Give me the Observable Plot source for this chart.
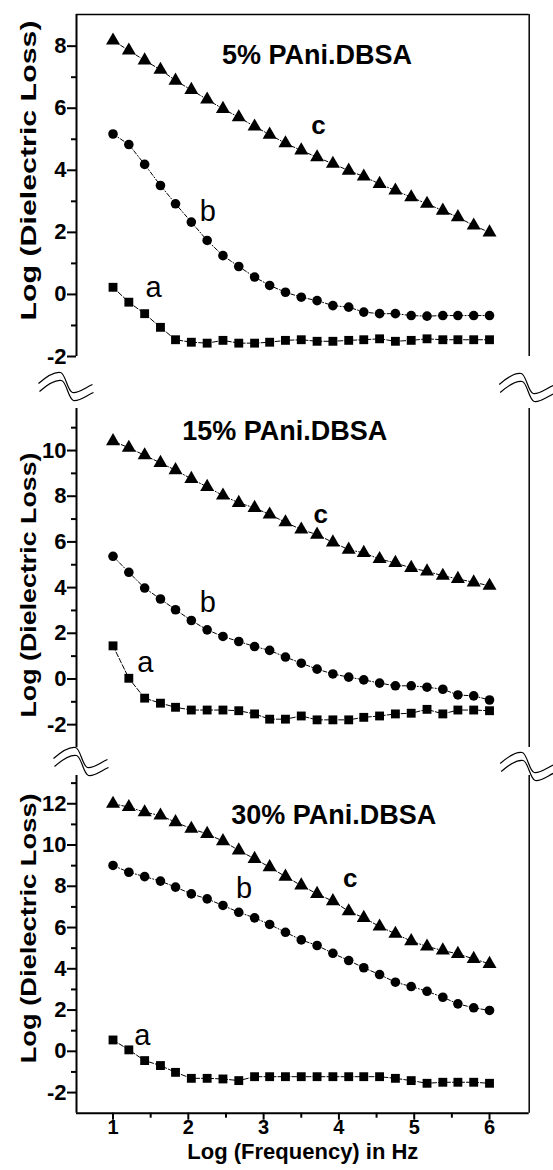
<!DOCTYPE html>
<html><head><meta charset="utf-8">
<script src="https://cdn.jsdelivr.net/npm/d3@7"></script>
<script src="https://cdn.jsdelivr.net/npm/@observablehq/plot@0.6"></script>
<style>
body{margin:0;background:#fff}
#chart{position:relative;width:553px;height:1170px;background:#fff}
#chart svg{display:block;overflow:visible;background:transparent}
</style></head><body><div id="chart"></div>
<script>
// ---- data ----
const logFreq = [1, 1.21, 1.42, 1.63, 1.83, 2.04, 2.25, 2.46, 2.67, 2.88, 3.08, 3.29, 3.5, 3.71, 3.92, 4.13, 4.33, 4.54, 4.75, 4.96, 5.17, 5.38, 5.58, 5.79, 6];

const p5_a = [0.23, -0.25, -0.62, -1.06, -1.46, -1.54, -1.57, -1.48, -1.57, -1.57, -1.54, -1.48, -1.46, -1.51, -1.51, -1.48, -1.46, -1.43, -1.51, -1.48, -1.43, -1.46, -1.46, -1.46, -1.46];
const p5_b = [5.17, 4.83, 4.19, 3.51, 2.92, 2.33, 1.74, 1.25, 0.90, 0.56, 0.29, 0.07, -0.09, -0.20, -0.36, -0.41, -0.57, -0.62, -0.62, -0.68, -0.70, -0.68, -0.68, -0.68, -0.68];
const p5_c = [8.18, 7.86, 7.54, 7.24, 6.89, 6.59, 6.28, 5.98, 5.71, 5.41, 5.15, 4.87, 4.64, 4.42, 4.21, 3.99, 3.80, 3.56, 3.35, 3.13, 2.92, 2.70, 2.49, 2.22, 2.00];

const p15_a = [1.45, 0.03, -0.84, -1.06, -1.24, -1.36, -1.36, -1.36, -1.39, -1.53, -1.76, -1.76, -1.62, -1.79, -1.79, -1.79, -1.68, -1.62, -1.53, -1.50, -1.33, -1.53, -1.36, -1.36, -1.39];
const p15_b = [5.37, 4.67, 3.98, 3.50, 3.03, 2.56, 2.15, 1.86, 1.64, 1.42, 1.25, 0.96, 0.69, 0.43, 0.22, 0.08, -0.04, -0.18, -0.30, -0.30, -0.36, -0.45, -0.70, -0.74, -0.92];
const p15_c = [10.41, 10.12, 9.79, 9.46, 9.14, 8.76, 8.41, 8.03, 7.71, 7.49, 7.20, 6.86, 6.54, 6.32, 5.98, 5.66, 5.52, 5.25, 5.08, 4.86, 4.71, 4.52, 4.38, 4.23, 4.08];

const p30_a = [0.55, 0.07, -0.45, -0.69, -1.02, -1.31, -1.31, -1.34, -1.42, -1.23, -1.23, -1.23, -1.23, -1.23, -1.23, -1.23, -1.23, -1.23, -1.31, -1.42, -1.55, -1.50, -1.50, -1.50, -1.55];
const p30_b = [9.01, 8.68, 8.47, 8.25, 7.96, 7.63, 7.39, 7.07, 6.74, 6.47, 6.15, 5.77, 5.40, 5.13, 4.75, 4.40, 4.05, 3.72, 3.35, 3.14, 2.91, 2.62, 2.30, 2.11, 1.98];
const p30_c = [12.0, 11.84, 11.59, 11.43, 11.11, 10.79, 10.54, 10.19, 9.74, 9.33, 8.93, 8.47, 8.04, 7.63, 7.28, 6.79, 6.47, 6.05, 5.70, 5.34, 5.08, 4.89, 4.72, 4.48, 4.24];

const panelTitles = ["5% PAni.DBSA", "15% PAni.DBSA", "30% PAni.DBSA"];
const titlePos = [[3.71, 7.70], [3.28, 10.85], [3.93, 11.43]];
const curveLabels = ["a", "b", "c"];
const labelPos5 = [[1.54, 0.23], [2.26, 2.65], [3.73, 5.44]];
const labelPos15 = [[1.43, 0.71], [2.26, 3.33], [3.76, 7.2]];
const labelPos30 = [[1.39, 0.76], [2.74, 7.88], [4.15, 8.36]];

const xDomain = [0.515, 6.527];
const xMajor = [1, 2, 3, 4, 5, 6];
const xMinor = [1.5, 2.5, 3.5, 4.5, 5.5];
const yDomain5 = [-2, 9.02], yMajor5 = [-2, 0, 2, 4, 6, 8], yMinor5 = [-1, 1, 3, 5, 7];
const yDomain15 = [-3, 11.84], yMajor15 = [-2, 0, 2, 4, 6, 8, 10], yMinor15 = [-1, 1, 3, 5, 7, 9, 11];
const yDomain30 = [-3, 13.37], yMajor30 = [-2, 0, 2, 4, 6, 8, 10, 12], yMinor30 = [-1, 1, 3, 5, 7, 9, 11, 13];

const yTitle = "Log (Dielectric Loss)";
const xTitle = "Log (Frequency) in Hz";

// ---- layout ----
const panels = [
  {a: p5_a, b: p5_b, c: p5_c, yDomain: yDomain5, yMajor: yMajor5, yMinor: yMinor5, labels: labelPos5,
   height: 380, mt: 14, mb: 24, labelDy: -15, labelLen: 300, breaks: null, top: true, bottom: false},
  {a: p15_a, b: p15_b, c: p15_c, yDomain: yDomain15, yMajor: yMajor15, yMinor: yMinor15, labels: labelPos15,
   height: 380, mt: 28, mb: 13, labelDy: 7, labelLen: 265, breaks: [[-16, -36], [-8, -35]], top: false, bottom: false},
  {a: p30_a, b: p30_b, c: p30_c, yDomain: yDomain30, yMajor: yMajor30, yMinor: yMinor30, labels: labelPos30,
   height: 410, mt: 15, mb: 57.3, labelDy: -16, labelLen: 270, breaks: [[-1, -28], [-7, -23]], top: false, bottom: true}
];

// axis-break squiggle (decoration) as a custom symbol
const breakSymbol = {
  draw(ctx) {
    for (const [ox, oy] of [[0, 0], [1, 8]]) {
      ctx.moveTo(-22 + ox, 11 + oy);
      ctx.bezierCurveTo(-14 + ox, 4 + oy, -6 + ox, -1 + oy, 0 + ox, 0 + oy);
      ctx.bezierCurveTo(5 + ox, 1 + oy, 7 + ox, 19 + oy, 12 + ox, 20 + oy);
      ctx.bezierCurveTo(18 + ox, 21 + oy, 25 + ox, 15 + oy, 32 + ox, 12 + oy);
    }
  }
};

const font = "'Liberation Sans', Arial, Helvetica, sans-serif";
const rows = s => logFreq.map((x, k) => ({x, y: s[k]}));
const tickFmt = d => String(d);

panels.forEach((p, i) => {
  const marks = [];
  marks.push(Plot.ruleX([xDomain[0]], {stroke: "black", strokeWidth: 2}));
  marks.push(Plot.ruleX([xDomain[1]], {stroke: "black", strokeWidth: 1.5}));
  if (p.top) marks.push(Plot.ruleY([p.yDomain[1]], {stroke: "black", strokeWidth: 1.5}));
  if (p.bottom) marks.push(Plot.ruleY([p.yDomain[0]], {stroke: "black", strokeWidth: 2}));
  marks.push(Plot.axisY({ticks: p.yMajor, tickSize: 9, tickPadding: 1, tickFormat: tickFmt, label: null,
    fontSize: 22, fontWeight: "bold", fontFamily: font, strokeWidth: 2}));
  marks.push(Plot.axisY({ticks: p.yMinor, tickSize: 5, tickFormat: () => "", label: null, strokeWidth: 2}));
  if (p.bottom) {
    marks.push(Plot.axisX({ticks: xMajor, tickSize: 7, tickPadding: 0, tickFormat: tickFmt, label: null,
      fontSize: 20, fontWeight: "bold", fontFamily: font, strokeWidth: 2}));
    marks.push(Plot.axisX({ticks: xMinor, tickSize: 5, tickFormat: () => "", label: null, strokeWidth: 2}));
    marks.push(Plot.text([xTitle], {text: d => d, frameAnchor: "bottom", dy: 45.5, fontSize: 22, fontWeight: "bold",
      textLength: 270}));
  }
  marks.push(Plot.text([yTitle], {text: d => d, frameAnchor: "left", rotate: -90, dx: -48, dy: p.labelDy,
    fontSize: 22, fontWeight: "bold", textAnchor: "middle"}));

  // series
  marks.push(Plot.line(rows(p.a), {x: "x", y: "y", stroke: "black", strokeWidth: 1, strokeDasharray: "5,2"}));
  marks.push(Plot.line(rows(p.b), {x: "x", y: "y", stroke: "black", strokeWidth: 1, strokeDasharray: "4,2,1,2"}));
  marks.push(Plot.line(rows(p.c), {x: "x", y: "y", stroke: "black", strokeWidth: 1, strokeDasharray: "4,2,1,2"}));
  marks.push(Plot.dot(rows(p.a), {x: "x", y: "y", symbol: "square", r: 5, fill: "black", stroke: null}));
  marks.push(Plot.dot(rows(p.b), {x: "x", y: "y", symbol: "circle", r: 4.8, fill: "black", stroke: null}));
  marks.push(Plot.dot(rows(p.c), {x: "x", y: "y", symbol: "triangle", r: 5.2, fill: "black", stroke: null}));

  // annotations
  const ab = curveLabels.slice(0, 2).map((t, k) => ({t, x: p.labels[k][0], y: p.labels[k][1]}));
  const c = [{t: curveLabels[2], x: p.labels[2][0], y: p.labels[2][1]}];
  marks.push(Plot.text(ab, {x: "x", y: "y", text: "t", fontSize: 29, fontWeight: "normal"}));
  marks.push(Plot.text(c, {x: "x", y: "y", text: "t", fontSize: 26, fontWeight: "bold"}));
  marks.push(Plot.text([panelTitles[i]], {text: d => d, x: () => titlePos[i][0], y: () => titlePos[i][1],
    fontSize: 27, fontWeight: "bold"}));

  if (p.breaks) {
    marks.push(Plot.dot([0], {frameAnchor: "top-left", dx: p.breaks[0][0], dy: p.breaks[0][1], symbol: breakSymbol,
      fill: "none", stroke: "black", strokeWidth: 1.2}));
    marks.push(Plot.dot([0], {frameAnchor: "top-right", dx: p.breaks[1][0], dy: p.breaks[1][1], symbol: breakSymbol,
      fill: "none", stroke: "black", strokeWidth: 1.2}));
  }

  const svg = Plot.plot({
    width: 553, height: p.height,
    marginLeft: 76, marginRight: 24.3, marginTop: p.mt, marginBottom: p.mb,
    x: {domain: xDomain, axis: null},
    y: {domain: p.yDomain, axis: null},
    style: {fontFamily: font, fontSize: "20px", background: "transparent", overflow: "visible", color: "black"},
    marks
  });
  svg.querySelectorAll("text").forEach(t => {
    if (t.textContent === yTitle) {
      t.setAttribute("textLength", p.labelLen);
      t.setAttribute("lengthAdjust", "spacingAndGlyphs");
    }
  });
  document.getElementById("chart").appendChild(svg);
});
</script></body></html>
